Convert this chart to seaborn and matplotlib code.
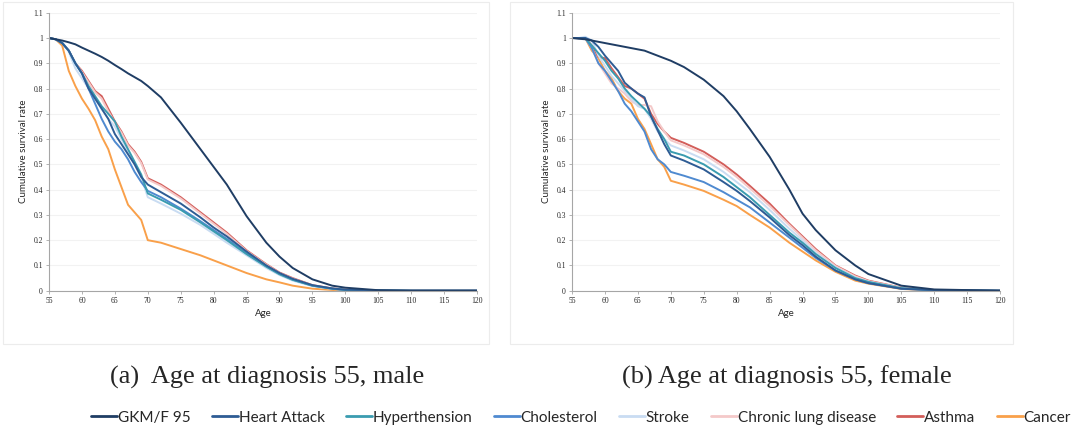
import numpy as np
import pandas as pd
import matplotlib
matplotlib.use("Agg")
import matplotlib.pyplot as plt
import seaborn as sns
from matplotlib.patches import Rectangle

# ages shared by both panels
ages = [55, 56, 57, 58, 59, 60, 61, 62, 63, 64, 65, 66, 67, 68, 69, 70,
        72, 75, 78, 80, 82, 85, 88, 90, 92, 95, 98, 100, 105, 110, 120]

series_names = ["GKM/F 95", "Heart Attack", "Hyperthension", "Cholesterol",
                "Stroke", "Chronic lung disease", "Asthma", "Cancer"]

# (a) male
male_gkm = [1, 0.995, 0.99, 0.983, 0.975, 0.962, 0.95, 0.938, 0.925, 0.91, 0.893, 0.877, 0.86, 0.845, 0.83, 0.81,
            0.765, 0.665, 0.56, 0.49, 0.42, 0.295, 0.19, 0.135, 0.09, 0.045, 0.02, 0.012, 0.002, 0, 0]
male_heart = [1, 0.995, 0.98, 0.95, 0.9, 0.86, 0.8, 0.76, 0.72, 0.68, 0.62, 0.58, 0.54, 0.5, 0.45, 0.42,
              0.39, 0.345, 0.29, 0.25, 0.215, 0.155, 0.1, 0.07, 0.047, 0.022, 0.009, 0.004, 0.001, 0, 0]
male_hyper = [1, 0.995, 0.98, 0.95, 0.9, 0.86, 0.81, 0.77, 0.73, 0.7, 0.67, 0.61, 0.56, 0.51, 0.46, 0.385,
              0.36, 0.32, 0.27, 0.235, 0.2, 0.145, 0.095, 0.065, 0.043, 0.02, 0.008, 0.003, 0.001, 0, 0]
male_chol = [1, 0.995, 0.98, 0.95, 0.9, 0.86, 0.8, 0.74, 0.68, 0.63, 0.59, 0.56, 0.52, 0.47, 0.43, 0.395,
             0.37, 0.325, 0.275, 0.24, 0.205, 0.148, 0.097, 0.067, 0.044, 0.02, 0.008, 0.003, 0.001, 0, 0]
male_stroke = [1, 0.995, 0.985, 0.945, 0.88, 0.84, 0.8, 0.76, 0.72, 0.68, 0.65, 0.6, 0.55, 0.5, 0.45, 0.37,
               0.345, 0.305, 0.26, 0.225, 0.19, 0.14, 0.09, 0.062, 0.04, 0.018, 0.007, 0.003, 0.001, 0, 0]
male_lung = [1, 0.995, 0.98, 0.95, 0.9, 0.865, 0.825, 0.785, 0.76, 0.71, 0.665, 0.625, 0.575, 0.545, 0.505, 0.44,
             0.415, 0.365, 0.305, 0.265, 0.225, 0.157, 0.103, 0.07, 0.048, 0.021, 0.009, 0.004, 0.001, 0, 0]
male_asthma = [1, 0.995, 0.98, 0.95, 0.9, 0.87, 0.83, 0.79, 0.77, 0.72, 0.67, 0.63, 0.58, 0.55, 0.51, 0.445,
               0.42, 0.37, 0.31, 0.27, 0.23, 0.16, 0.105, 0.072, 0.05, 0.022, 0.009, 0.004, 0.001, 0, 0]
male_cancer = [1, 0.995, 0.97, 0.87, 0.81, 0.76, 0.72, 0.675, 0.61, 0.56, 0.48, 0.41, 0.34, 0.31, 0.28, 0.2,
               0.19, 0.165, 0.14, 0.12, 0.1, 0.07, 0.045, 0.033, 0.02, 0.008, 0.003, 0.001, 0, 0, 0]

# (b) female
female_gkm = [1, 0.997, 0.995, 0.99, 0.985, 0.98, 0.975, 0.97, 0.965, 0.96, 0.955, 0.95, 0.94, 0.93, 0.92, 0.91,
              0.885, 0.835, 0.77, 0.71, 0.64, 0.53, 0.4, 0.305, 0.24, 0.16, 0.1, 0.066, 0.02, 0.005, 0]
female_heart = [1, 1, 1, 0.99, 0.965, 0.93, 0.9, 0.87, 0.823, 0.8, 0.78, 0.765, 0.69, 0.635, 0.58, 0.535,
                0.515, 0.48, 0.43, 0.395, 0.355, 0.29, 0.22, 0.18, 0.135, 0.08, 0.045, 0.03, 0.008, 0.002, 0]
female_hyper = [1, 1, 1, 0.97, 0.94, 0.91, 0.87, 0.84, 0.8, 0.77, 0.745, 0.72, 0.69, 0.64, 0.6, 0.55,
                0.535, 0.5, 0.45, 0.41, 0.37, 0.3, 0.23, 0.19, 0.145, 0.09, 0.05, 0.035, 0.01, 0.002, 0]
female_chol = [1, 1, 1, 0.96, 0.9, 0.87, 0.83, 0.79, 0.74, 0.71, 0.67, 0.63, 0.56, 0.52, 0.5, 0.47,
               0.455, 0.43, 0.39, 0.36, 0.33, 0.27, 0.21, 0.17, 0.13, 0.08, 0.045, 0.03, 0.008, 0.002, 0]
female_stroke = [1, 1, 1.005, 0.99, 0.93, 0.89, 0.85, 0.82, 0.79, 0.76, 0.73, 0.72, 0.68, 0.63, 0.6, 0.575,
                 0.555, 0.52, 0.47, 0.43, 0.39, 0.32, 0.245, 0.2, 0.15, 0.093, 0.052, 0.036, 0.01, 0.002, 0]
female_lung = [1, 1, 1, 0.96, 0.9, 0.86, 0.82, 0.8, 0.78, 0.75, 0.735, 0.735, 0.73, 0.67, 0.63, 0.595,
               0.575, 0.54, 0.49, 0.45, 0.405, 0.335, 0.26, 0.21, 0.16, 0.098, 0.057, 0.038, 0.011, 0.002, 0]
female_asthma = [1, 1, 1, 0.97, 0.925, 0.92, 0.88, 0.845, 0.81, 0.8, 0.78, 0.76, 0.7, 0.66, 0.63, 0.605,
                 0.585, 0.55, 0.5, 0.46, 0.415, 0.345, 0.265, 0.215, 0.165, 0.1, 0.06, 0.04, 0.012, 0.003, 0]
female_cancer = [1, 1, 1, 0.95, 0.92, 0.87, 0.84, 0.79, 0.76, 0.74, 0.68, 0.64, 0.58, 0.52, 0.49, 0.435,
                 0.42, 0.395, 0.36, 0.335, 0.3, 0.25, 0.19, 0.155, 0.12, 0.075, 0.04, 0.028, 0.007, 0.001, 0]

male = [male_gkm, male_heart, male_hyper, male_chol, male_stroke, male_lung, male_asthma, male_cancer]
female = [female_gkm, female_heart, female_hyper, female_chol, female_stroke, female_lung, female_asthma, female_cancer]

palette = {
    "GKM/F 95": "#1f3d64",
    "Heart Attack": "#2e5c94",
    "Hyperthension": "#3a9cb0",
    "Cholesterol": "#4f8ad0",
    "Stroke": "#c9dcf2",
    "Chronic lung disease": "#f4c9c9",
    "Asthma": "#d35e5a",
    "Cancer": "#f9a04a",
}


def to_long(groups):
    rows = []
    for name, vals in zip(series_names, groups):
        for a, v in zip(ages, vals):
            rows.append((name, a, v))
    return pd.DataFrame(rows, columns=["series", "Age", "rate"])


sns.set_style("white")
plt.rcParams["font.family"] = ["Lato", "DejaVu Sans"]

fig = plt.figure(figsize=(10.82, 4.33), dpi=100)

# light panel frames
fig.patches.append(Rectangle((0.003, 0.205), 0.449, 0.79, transform=fig.transFigure,
                             fill=False, edgecolor="#ececec", lw=0.8))
fig.patches.append(Rectangle((0.471, 0.205), 0.465, 0.79, transform=fig.transFigure,
                             fill=False, edgecolor="#ececec", lw=0.8))

ax1 = fig.add_axes([0.0453, 0.3286, 0.3956, 0.642])
ax2 = fig.add_axes([0.5287, 0.3286, 0.3956, 0.642])

for ax, groups in [(ax1, male), (ax2, female)]:
    df = to_long(groups)
    # draw in reverse so the dark lines sit on top
    sns.lineplot(data=df, x="Age", y="rate", hue="series", hue_order=series_names[::-1],
                 palette=palette, linewidth=1.4, legend=False, ax=ax)
    ax.set_xlim(55, 120)
    ax.set_ylim(0, 1.1)
    ax.set_xticks(range(55, 121, 5))
    ax.set_yticks(np.arange(0, 1.11, 0.1))
    ax.set_yticklabels(["0", "0.1", "0.2", "0.3", "0.4", "0.5", "0.6", "0.7", "0.8", "0.9", "1", "1.1"])
    ax.yaxis.grid(True, color="#f2f2f2", lw=0.8)
    for lab in ax.get_xticklabels() + ax.get_yticklabels():
        lab.set_fontsize(5.5)
        lab.set_family("Liberation Serif")
    ax.tick_params(axis="both", length=2.5, width=0.6, color="#a6a6a6", pad=2, direction="out",
                   bottom=True, left=True)
    for s in ["top", "right"]:
        ax.spines[s].set_visible(False)
    for s in ["left", "bottom"]:
        ax.spines[s].set_color("#a6a6a6")
        ax.spines[s].set_linewidth(0.8)
    ax.set_xlabel("Age", fontsize=7, labelpad=3)
    ax.set_ylabel("Cumulative survival rate", fontsize=7, labelpad=4)

fig.text(0.247, 0.128, "(a)  Age at diagnosis 55, male", ha="center", va="center",
         fontsize=19, family="Liberation Serif")
fig.text(0.727, 0.128, "(b) Age at diagnosis 55, female", ha="center", va="center",
         fontsize=19, family="Liberation Serif")

handles = [plt.Line2D([], [], color=palette[n], lw=2) for n in series_names]
fig.legend(handles, series_names, loc="center", bbox_to_anchor=(0.537, 0.035), ncol=8,
           frameon=False, fontsize=11, handlelength=1.7, handletextpad=0.05, columnspacing=1.4)

fig.savefig("out.png", dpi=100)
